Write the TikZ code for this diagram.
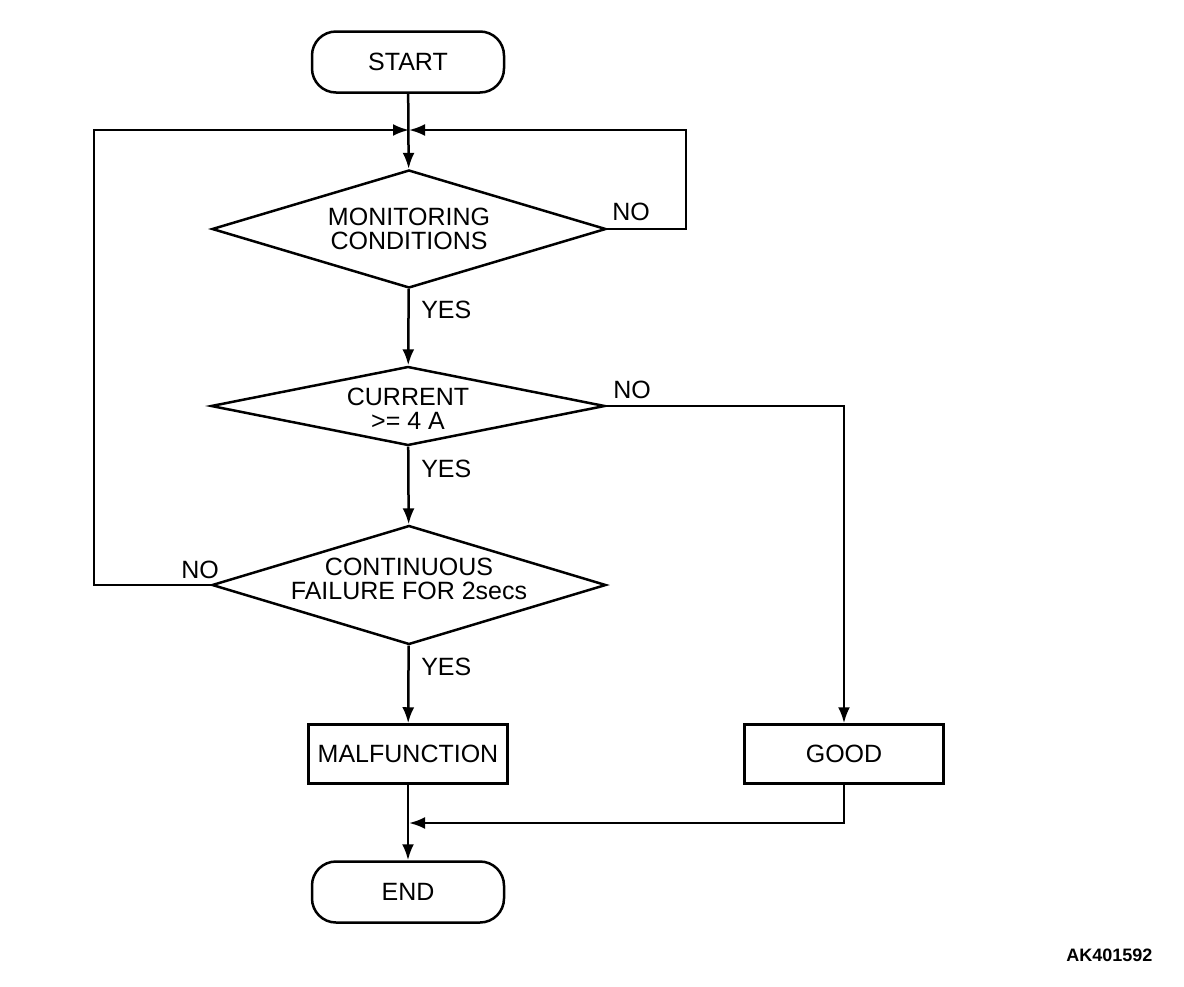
\documentclass[tikz,border=0pt]{standalone}
\usepackage{fontspec}
\setmainfont{Liberation Sans}
\usetikzlibrary{shapes.geometric,arrows.meta}

\tikzset{
  term/.style={draw, rounded corners=24pt, minimum width=192pt, minimum height=61pt, inner sep=0pt},
  proc/.style={draw, minimum width=199pt, minimum height=59pt, inner sep=0pt},
  test/.style={draw, diamond, inner sep=0pt, minimum width=394pt},
  txt/.style={align=center, inner sep=0pt},
  flow/.style={-{Latex[length=16pt,width=12pt]}},
  lbl/.style={inner sep=0pt, anchor=west}
}

\begin{document}
\begin{tikzpicture}[x=1pt, y=-1pt, line width=2.5pt, font=\fontsize{25}{24}\selectfont]

\useasboundingbox (0,0) rectangle (1184,986);

% main column
\node[term] (start) at (408,62) {START};
\node[test, minimum height=118pt, aspect=3.35] (mon) at (409,229) {};
\node[test, minimum height=79pt, aspect=5] (cur) at (408,406) {};
\node[test, minimum height=119pt, aspect=3.3] (cont) at (409,585) {};
\node[proc] (malf) at (408,754) {MALFUNCTION};
\node[proc] (good) at (844,754) {GOOD};
\node[term] (end) at (408,892) {END};

%diamond texts
\node[txt] (montxt) at (mon) {MONITORING\\CONDITIONS};
\node[txt] (curtxt) at ([yshift=-3pt]cur.center) {CURRENT\\>= 4 A};
\node[txt] (conttxt) at ([yshift=6pt]cont.center) {CONTINUOUS\\FAILURE FOR 2secs};

%loop and merge points
\coordinate (join) at (409,130);
\coordinate (rloop) at (686,130);
\coordinate (lloop) at (94,130);
\coordinate (merge) at (409,823);

\draw[flow] (start) -- (mon);
\draw[flow] (mon) -- (cur);
\draw[flow] (cur) -- (cont);
\draw[flow] (cont) -- (malf);
\draw[flow] (malf) -- (end);

\draw[flow] (mon.east) -| (rloop) -- (join);
\draw[flow] (cont.west) -| (lloop) -- (join);
\draw[flow] (cur.east) -| (good);
\draw[flow] (good) |- (merge);

\node[lbl] (yes1) at (420,310) {YES};
\node[lbl] (yes2) at (420,469) {YES};
\node[lbl] (yes3) at (420,667) {YES};
\node[lbl] (no1) at (611,212) {NO};
\node[lbl] (no2) at (612,390) {NO};
\node[lbl] (no3) at (180,570) {NO};

\node[lbl, font=\fontsize{18}{18}\selectfont\bfseries] (code) at (1065,955) {AK401592};

\end{tikzpicture}
\end{document}
